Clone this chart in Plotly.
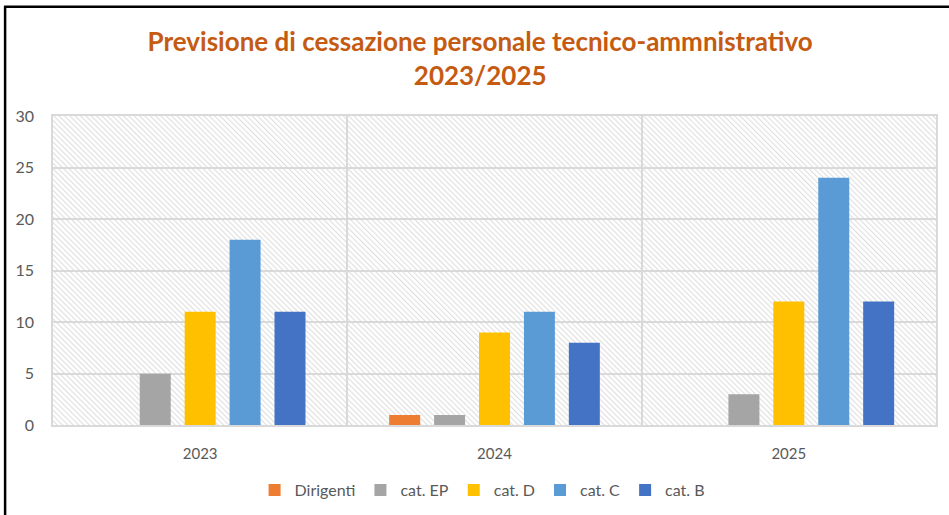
import base64
import plotly.graph_objects as go

years = ["2023", "2024", "2025"]
series_names = ["Dirigenti", "cat. EP", "cat. D", "cat. C", "cat. B"]
dirigenti = [0, 1, 0]
cat_ep = [5, 1, 3]
cat_d = [11, 9, 12]
cat_c = [18, 11, 24]
cat_b = [11, 8, 12]
y_ticks = [0, 5, 10, 15, 20, 25, 30]

colors = ["#ED7D31", "#A5A5A5", "#FFC000", "#5B9BD5", "#4472C4"]
values = [dirigenti, cat_ep, cat_d, cat_c, cat_b]

fig = go.Figure()
for name, vals, col in zip(series_names, values, colors):
    fig.add_trace(go.Bar(x=years, y=vals, name=name, marker=dict(color=col, line=dict(width=0))))

svg = ('<svg xmlns="http://www.w3.org/2000/svg" width="885" height="310">'
       '<defs><pattern id="p" width="3.8" height="3.8" patternUnits="userSpaceOnUse" patternTransform="rotate(-45)">'
       '<rect width="3.8" height="3.8" fill="white"/>'
       '<line x1="0.6" y1="0" x2="0.6" y2="3.8" stroke="#dcdcdc" stroke-width="1"/></pattern></defs>'
       '<rect width="100%" height="100%" fill="url(#p)"/></svg>')
uri = "data:image/svg+xml;base64," + base64.b64encode(svg.encode()).decode()

font_family = "Lato, 'Open Sans', sans-serif"
fig.update_layout(
    width=949, height=515,
    margin=dict(l=53, r=11, t=116, b=89),
    paper_bgcolor="white",
    plot_bgcolor="rgba(0,0,0,0)",
    barmode="group",
    bargap=0.237,
    bargroupgap=0.31,
    font=dict(family=font_family, color="#595959", size=15),
    title=dict(
        text="Previsione di cessazione personale tecnico-ammnistrativo<br>2023/2025",
        x=0.506, xref="container", xanchor="center",
        y=1 - 51 / 515, yref="container", yanchor="middle",
        font=dict(family=font_family, size=26, color="#C55A11", weight="bold"),
    ),
    legend=dict(
        orientation="h", x=0.508, xref="container", xanchor="center",
        y=1 - 490 / 515, yref="container", yanchor="middle",
        font=dict(size=16, color="#595959"),
        itemwidth=30, traceorder="normal",
    ),
    xaxis=dict(
        type="category", tickson="boundaries", showgrid=True,
        gridcolor="#d9d9d9", gridwidth=1.5,
        showline=True, linecolor="#d9d9d9", linewidth=1.5, mirror=True,
        ticks="", ticklabelstandoff=14, tickfont=dict(size=15),
    ),
    yaxis=dict(
        range=[0, 30], tickvals=y_ticks, showgrid=True,
        gridcolor="#d9d9d9", gridwidth=1.5,
        showline=True, linecolor="#d9d9d9", linewidth=1.5, mirror=True,
        zeroline=False, ticks="", ticklabelstandoff=14, tickfont=dict(size=16),
    ),
    images=[dict(source=uri, xref="paper", yref="paper", x=0, y=1,
                 sizex=1, sizey=1, sizing="stretch", xanchor="left", yanchor="top",
                 layer="below")],
    shapes=[
        dict(type="line", xref="paper", yref="paper", x0=-49/885, x1=1.1, y0=1+109.5/310, y1=1+109.5/310,
             line=dict(color="black", width=2.5)),
        dict(type="line", xref="paper", yref="paper", x0=-48/885, x1=-48/885, y0=1+110/310, y1=-0.5,
             line=dict(color="black", width=2.5)),
    ],
)

fig.write_html("out.html", config={"displayModeBar": False},
               post_script="document.body.style.margin='0';")
